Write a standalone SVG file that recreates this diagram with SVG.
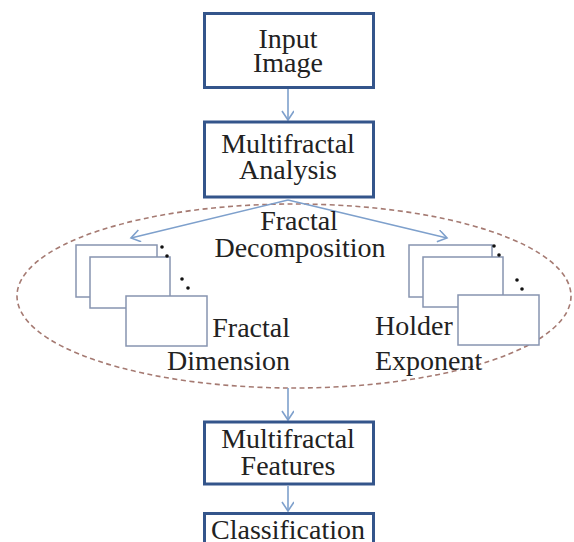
<svg xmlns="http://www.w3.org/2000/svg" width="574" height="542" viewBox="0 0 574 542">
<style>
.box{fill:#fff;stroke:#34558b;stroke-width:3}
.pg{fill:#fff;stroke:#8794b0;stroke-width:1.5}
.con{stroke:#7ea0cc;stroke-width:1.6;fill:none;marker-end:url(#ah)}
.dot{fill:#111}
</style>
<defs>
<marker id="ah" markerWidth="14" markerHeight="14" refX="10" refY="6" orient="auto" markerUnits="userSpaceOnUse">
<path d="M1,0 L10,6 L1,12" fill="none" stroke="#7ea0cc" stroke-width="1.6"/>
</marker>
</defs>
<rect width="574" height="542" fill="#fff"/>
<g id="group-ellipse">
<ellipse cx="294" cy="296" rx="277" ry="92" fill="none" stroke="#a57a72" stroke-width="1.6" stroke-dasharray="5 3.5"/>
</g>
<g id="connectors">
<line class="con" x1="288" y1="89" x2="288" y2="120"/>
<line class="con" x1="288" y1="200" x2="131" y2="238"/>
<line class="con" x1="288" y1="200" x2="447" y2="238"/>
<line class="con" x1="288" y1="388" x2="288" y2="420"/>
<line class="con" x1="288" y1="486" x2="288" y2="511"/>
</g>
<g id="input-image">
<rect class="box" x="204.5" y="13.5" width="169" height="74"/>
<text x="288" y="48" font-family="Liberation Serif" font-size="28" fill="#222" text-anchor="middle">Input</text>
<text x="288" y="72" font-family="Liberation Serif" font-size="28" fill="#222" text-anchor="middle">Image</text>
</g>
<g id="multifractal-analysis">
<rect class="box" x="204.5" y="122" width="169" height="75"/>
<text x="288" y="153" font-family="Liberation Serif" font-size="28" fill="#222" text-anchor="middle">Multifractal</text>
<text x="288" y="179" font-family="Liberation Serif" font-size="28" fill="#222" text-anchor="middle">Analysis</text>
</g>
<g id="fractal-decomposition">
<text x="299" y="230" font-family="Liberation Serif" font-size="28" fill="#222" text-anchor="middle">Fractal</text>
<text x="300" y="257" font-family="Liberation Serif" font-size="28" fill="#222" text-anchor="middle">Decomposition</text>
</g>
<g id="fractal-dimension">
<rect class="pg" x="76" y="245" width="81" height="52"/>
<rect class="pg" x="90" y="257" width="80" height="51"/>
<rect class="pg" x="126" y="296" width="81" height="50"/>
<circle class="dot" cx="162" cy="247" r="1.8"/>
<circle class="dot" cx="167" cy="256" r="1.8"/>
<circle class="dot" cx="182" cy="279" r="1.8"/>
<circle class="dot" cx="188" cy="288" r="1.8"/>
<text x="290" y="337" font-family="Liberation Serif" font-size="28" fill="#222" text-anchor="end">Fractal</text>
<text x="290" y="370" font-family="Liberation Serif" font-size="28" fill="#222" text-anchor="end">Dimension</text>
</g>
<g id="holder-exponent">
<rect class="pg" x="409" y="245" width="83" height="52"/>
<rect class="pg" x="423" y="257" width="80" height="50"/>
<rect class="pg" x="458" y="295" width="81" height="50"/>
<circle class="dot" cx="494" cy="246" r="1.8"/>
<circle class="dot" cx="499" cy="255" r="1.8"/>
<circle class="dot" cx="517" cy="280" r="1.8"/>
<circle class="dot" cx="522" cy="289" r="1.8"/>
<text x="375" y="335" font-family="Liberation Serif" font-size="28" fill="#222">Holder</text>
<text x="375" y="370" font-family="Liberation Serif" font-size="28" fill="#222">Exponent</text>
</g>
<g id="multifractal-features">
<rect class="box" x="204.5" y="422" width="169" height="62"/>
<text x="288" y="448" font-family="Liberation Serif" font-size="28" fill="#222" text-anchor="middle">Multifractal</text>
<text x="288" y="475" font-family="Liberation Serif" font-size="28" fill="#222" text-anchor="middle">Features</text>
</g>
<g id="classification">
<rect class="box" x="204.5" y="513.5" width="169" height="40"/>
<text x="288" y="539" font-family="Liberation Serif" font-size="28" fill="#222" text-anchor="middle">Classification</text>
</g>
</svg>
